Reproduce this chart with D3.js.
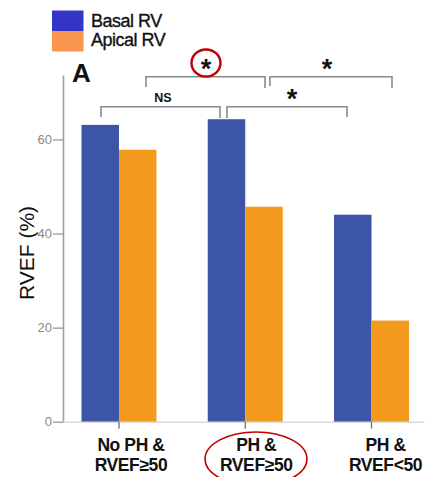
<!DOCTYPE html>
<html>
<head>
<meta charset="utf-8">
<script src="https://cdn.jsdelivr.net/npm/d3@7"></script>
<style>
  html, body { margin: 0; padding: 0; background: #fff; }
  svg { display: block; font-family: Arial, "Liberation Sans", sans-serif; }
</style>
</head>
<body>
<svg id="chart" width="429" height="477"></svg>
<script>
// RVEF by region and patient group
const groups = ["No PH &\nRVEF≥50", "PH &\nRVEF≥50", "PH &\nRVEF<50"];
const seriesNames = ["Basal RV", "Apical RV"];
const basal = [63.1, 64.3, 44.0];
const apical = [57.8, 45.7, 21.5];
const yTicks = [0, 20, 40, 60];

const barColors = ["#3d55a9", "#f39a1e"];
const legendColors = ["#3434c6", "#f7964c"];

const svg = d3.select("#chart");

const yTop = 75, yBottom = 421.7, axisX = 63;
const y = d3.scaleLinear().domain([0, 73.7]).range([yBottom, yTop]);

const x = d3.scaleBand().domain(groups)
  .range([119 - 63.15, 371.5 + 63.15])
  .paddingInner(0.406).paddingOuter(0.203);
const xs = d3.scaleBand().domain(seriesNames).range([0, x.bandwidth()]);

// Bars
const rows = groups.map((g, i) => ({ g, vals: [basal[i], apical[i]] }));
const gBars = svg.append("g");
rows.forEach(r => {
  r.vals.forEach((v, k) => {
    gBars.append("rect")
      .attr("x", x(r.g) + xs(seriesNames[k]))
      .attr("y", y(v))
      .attr("width", xs.bandwidth())
      .attr("height", y(0) - y(v))
      .attr("fill", barColors[k]);
  });
});

// Y axis
const yAxis = svg.append("g")
  .attr("transform", `translate(${axisX},0)`)
  .call(d3.axisLeft(y).tickValues(yTicks).tickSize(10).tickSizeOuter(0).tickPadding(1));
yAxis.select(".domain").attr("stroke", "#a0a0a0").attr("stroke-width", 1.6);
yAxis.selectAll(".tick line").attr("stroke", "#909090").attr("stroke-width", 1.2);
yAxis.selectAll(".tick text").attr("fill", "#888").attr("font-size", 13)
  .attr("font-family", "Arial, 'Liberation Sans', sans-serif");

// X axis ticks at group centres
const xAxis = svg.append("g")
  .attr("transform", `translate(0,${yBottom})`)
  .call(d3.axisBottom(x).tickSize(7).tickSizeOuter(0).tickFormat(""));
xAxis.select(".domain").attr("stroke", "#c8c8c8").attr("stroke-width", 1)
  .attr("d", `M${axisX},0.5H${x.range()[1] - 10}`);
xAxis.selectAll(".tick line").attr("stroke", "#707070").attr("stroke-width", 1.3);

// Category labels
const labelShift = [12, 11, 14];
groups.forEach((g, i) => {
  const cx = x(g) + x.bandwidth() / 2 + labelShift[i];
  const t = svg.append("text")
    .attr("text-anchor", "middle")
    .attr("font-weight", "bold").attr("font-size", 17.5)
    .attr("letter-spacing", -0.4)
    .attr("fill", "#111");
  g.split("\n").forEach((line, j) => {
    t.append("tspan").attr("x", cx).attr("y", 451 + j * 20).text(line);
  });
});

// Y axis title
svg.append("text")
  .attr("transform", "translate(34,253) rotate(-90)")
  .attr("text-anchor", "middle")
  .attr("font-size", 21).attr("fill", "#111")
  .text("RVEF (%)");

// Panel letter
svg.append("text").attr("x", 72).attr("y", 82)
  .attr("font-size", 26).attr("font-weight", "bold").attr("fill", "#111").text("A");

// Legend
seriesNames.forEach((name, k) => {
  svg.append("rect").attr("x", 52).attr("y", 10.5 + k * 20.5)
    .attr("width", 31.5).attr("height", 20.5).attr("fill", legendColors[k]);
  svg.append("text").attr("x", 91).attr("y", 27 + k * 19)
    .attr("font-size", 18).attr("letter-spacing", -0.5).attr("fill", "#111")
    .attr("stroke", "#111").attr("stroke-width", 0.35)
    .text(name);
});

// Significance brackets
const brackets = [
  { x1: 146, x2: 265, yTop: 76.7, yL: 87, yR: 88, label: "*", lx: 206, ly: 63 },
  { x1: 270, x2: 392, yTop: 76.7, yL: 86, yR: 88, label: "*", lx: 327, ly: 63 },
  { x1: 101, x2: 220, yTop: 106.7, yL: 117, yR: 118, label: "NS", lx: 163, ly: 97 },
  { x1: 227, x2: 347, yTop: 106.7, yL: 118, yR: 117, label: "*", lx: 292, ly: 93 }
];
brackets.forEach(b => {
  svg.append("path")
    .attr("d", `M${b.x1},${b.yL}V${b.yTop}H${b.x2}V${b.yR}`)
    .attr("fill", "none").attr("stroke", "#8a8a8a").attr("stroke-width", 1.6);
  if (b.label === "*") {
    svg.append("text").attr("x", b.lx).attr("y", b.ly + 15)
      .attr("text-anchor", "middle").attr("font-size", 27).attr("font-weight", "bold")
      .attr("fill", "#111").text("*");
  } else {
    svg.append("text").attr("x", b.lx).attr("y", b.ly + 4.5)
      .attr("text-anchor", "middle").attr("font-size", 12.5).attr("font-weight", "bold")
      .attr("fill", "#111").text(b.label);
  }
});

// Highlight rings
svg.append("ellipse").attr("cx", 206).attr("cy", 63).attr("rx", 14.5).attr("ry", 13.5)
  .attr("fill", "none").attr("stroke", "#c00000").attr("stroke-width", 2.4);
svg.append("ellipse").attr("cx", 256).attr("cy", 459).attr("rx", 51).attr("ry", 27)
  .attr("fill", "none").attr("stroke", "#c00000").attr("stroke-width", 1.6);
</script>
</body>
</html>
